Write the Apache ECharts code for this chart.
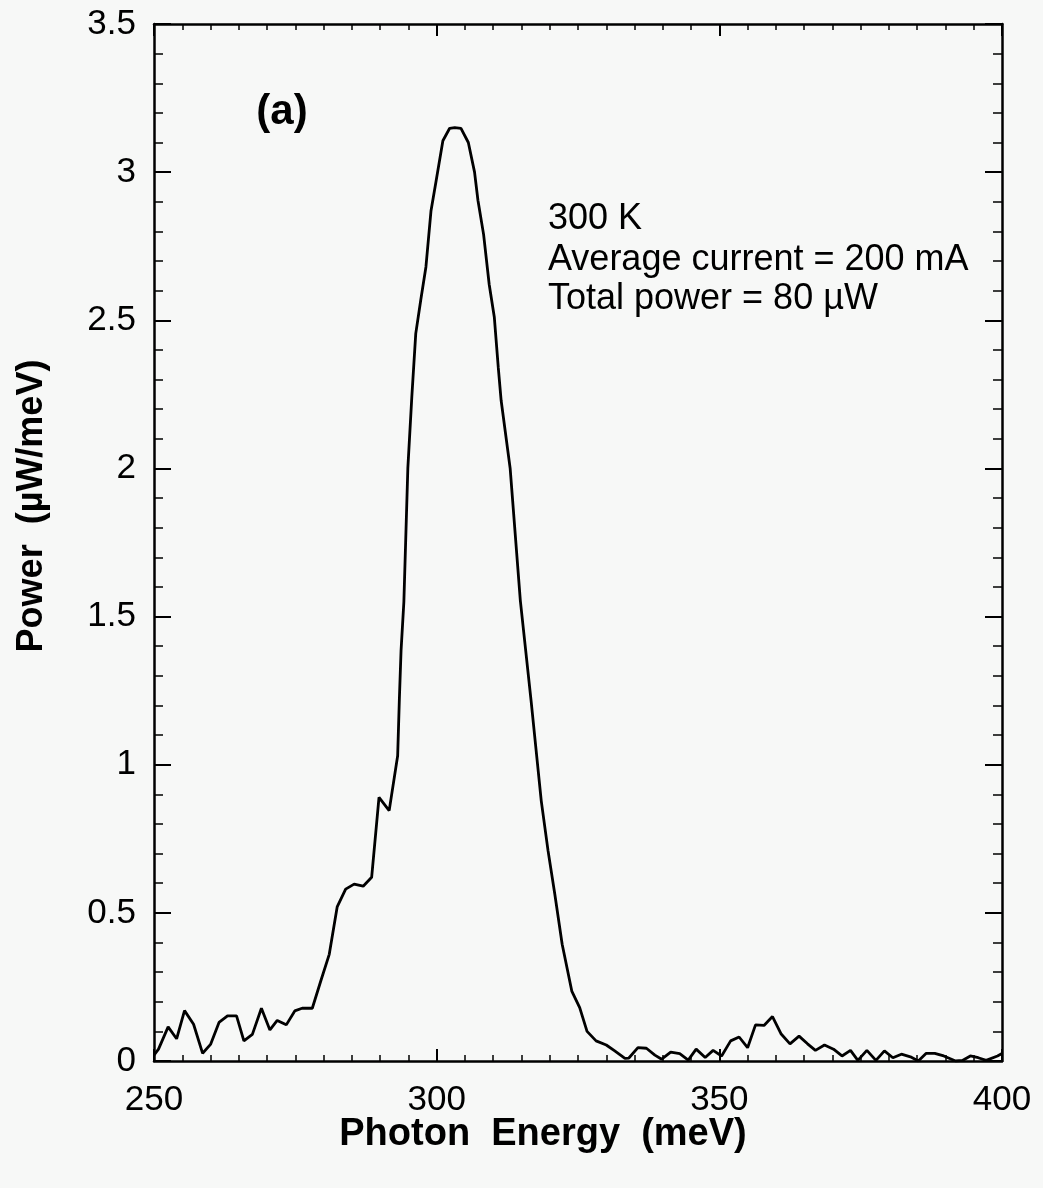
<!DOCTYPE html>
<html>
<head>
<meta charset="utf-8">
<script src="https://cdn.jsdelivr.net/npm/echarts@6/dist/echarts.min.js"></script>
<style>
  body { margin: 0; background: #f7f8f7; }
</style>
</head>
<body>
<div id="main" style="width: 1043px; height: 1188px;"></div>
<script>
// photon energy (meV) and power (uW/meV)
var energy = [
  250, 250.8, 252.5, 254, 255.4, 257, 258.6, 260, 261.5, 263,
  264.6, 265.9, 267.4, 269, 270.5, 271.8, 273.4, 274.9, 276.2, 278,
  279.5, 281, 282.4, 283.9, 285.4, 287, 288.5, 289.8, 291.6, 293.1,
  293.4, 293.7, 294.2, 294.9, 295.6, 296.3, 297.2, 298.1, 299, 299.9,
  301.1, 302.3, 303.2, 304.3, 305.6, 306.7, 307.3, 308.3, 309.3, 310.2,
  310.9, 311.4, 313, 314.8, 316.7, 318.5, 319.7, 320.9, 322.2, 323.9,
  325.3, 326.6, 328.2, 330, 331.5, 333.3, 334, 335.6, 337.1, 338.6,
  339.8, 341.4, 343, 344.5, 345.9, 347.5, 348.9, 350.4, 352, 353.5,
  355, 356.4, 357.9, 359.4, 360.9, 362.5, 364.1, 365.6, 367, 368.6,
  370.2, 371.7, 373.2, 374.5, 376.1, 377.7, 379.2, 380.7, 382.2, 383.8,
  385.2, 386.6, 388.1, 389.7, 391.8, 393, 394.4, 395.8, 397.2, 399.2,
  400
];
var power = [
  0.02, 0.04, 0.115, 0.075, 0.17, 0.124, 0.026, 0.056, 0.13, 0.152,
  0.152, 0.068, 0.09, 0.178, 0.105, 0.137, 0.122, 0.169, 0.178, 0.178,
  0.27, 0.36, 0.52, 0.58, 0.597, 0.59, 0.62, 0.89, 0.845, 1.03,
  1.22, 1.385, 1.55, 2.0, 2.24, 2.455, 2.57, 2.68, 2.87, 2.97,
  3.106, 3.148, 3.15, 3.148, 3.1, 3.0, 2.905, 2.79, 2.62, 2.51,
  2.34, 2.23, 2.0, 1.554, 1.216, 0.878, 0.71, 0.563, 0.394, 0.236,
  0.18, 0.1, 0.068, 0.054, 0.034, 0.009, 0.01, 0.045, 0.043, 0.02,
  0.006, 0.03, 0.025, 0.003, 0.04, 0.012, 0.036, 0.017, 0.068, 0.081,
  0.045, 0.122, 0.12, 0.15, 0.092, 0.058, 0.084, 0.058, 0.036, 0.054,
  0.04, 0.017, 0.036, 0.002, 0.036, 0.002, 0.034, 0.011, 0.023, 0.014,
  0, 0.026, 0.026, 0.017, 0, 0.002, 0.017, 0.011, 0.002, 0.017,
  0.025
];
var infoLines = ["300 K", "Average current = 200 mA", "Total power = 80 \u00b5W"];

var seriesData = energy.map(function (e, i) {
  return [e, power[i]];
});

function frameAxis(pos, min, max, interval, split, majorLen, minorLen, showLabel) {
  return {
    type: "value",
    position: pos,
    min: min,
    max: max,
    interval: interval,
    axisLine: { show: true, onZero: false, lineStyle: { color: "#000", width: 2.5 } },
    axisTick: { show: true, inside: true, length: majorLen, lineStyle: { color: "#000", width: 2 } },
    minorTick: { show: true, splitNumber: split, length: minorLen, lineStyle: { color: "#000", width: 1.5 } },
    splitLine: { show: false },
    minorSplitLine: { show: false },
    axisLabel: {
      show: showLabel,
      color: "#000",
      fontFamily: "Liberation Sans",
      fontSize: 35,
      margin: pos === "bottom" ? 22 : 18,
    },
  };
}

var myChart = echarts.init(document.getElementById("main"));
var labelFont = "Liberation Sans";

var option = {
  backgroundColor: "#f7f8f7",
  animation: false,
  grid: { left: 154, right: 41, top: 24, bottom: 127 },
  xAxis: [
    frameAxis("bottom", 250, 400, 50, 10, 12, 6, true),
    frameAxis("top", 250, 400, 50, 10, 12, 6, false),
  ],
  yAxis: [
    frameAxis("left", 0, 3.5, 0.5, 5, 17, 9, true),
    frameAxis("right", 0, 3.5, 0.5, 5, 17, 9, false),
  ],
  series: [
    {
      type: "line",
      data: seriesData,
      xAxisIndex: 0,
      yAxisIndex: 0,
      showSymbol: false,
      lineStyle: { color: "#000", width: 2.8 },
    },
  ],
  graphic: [
    {
      type: "text",
      x: 282,
      y: 112,
      style: {
        text: "(a)",
        align: "center",
        verticalAlign: "middle",
        font: "bold 42px " + labelFont,
        fill: "#000",
      },
    },
    {
      type: "text",
      x: 548,
      y: 219,
      style: { text: infoLines[0], verticalAlign: "middle", font: "36px " + labelFont, fill: "#000" },
    },
    {
      type: "text",
      x: 548,
      y: 260,
      style: { text: infoLines[1], verticalAlign: "middle", font: "36px " + labelFont, fill: "#000" },
    },
    {
      type: "text",
      x: 548,
      y: 299,
      style: { text: infoLines[2], verticalAlign: "middle", font: "36px " + labelFont, fill: "#000" },
    },
    {
      type: "text",
      x: 32,
      y: 506,
      rotation: Math.PI / 2,
      style: {
        text: "Power  (\u00b5W/meV)",
        align: "center",
        verticalAlign: "middle",
        font: "bold 36px " + labelFont,
        fill: "#000",
      },
    },
    {
      type: "text",
      x: 543,
      y: 1135,
      style: {
        text: "Photon  Energy  (meV)",
        align: "center",
        verticalAlign: "middle",
        font: "bold 38px " + labelFont,
        fill: "#000",
      },
    },
  ],
};
myChart.setOption(option);
</script>
</body>
</html>
